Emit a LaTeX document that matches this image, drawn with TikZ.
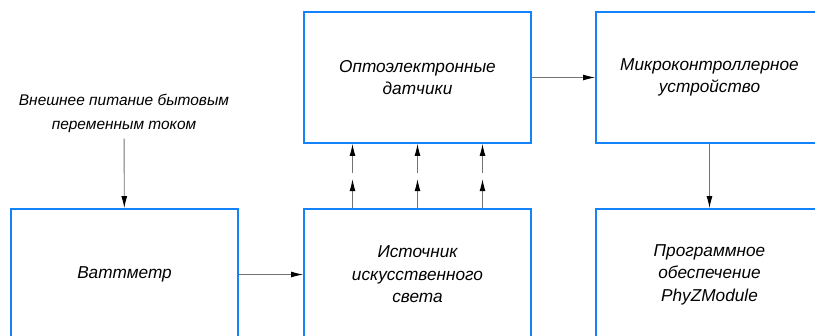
\documentclass[tikz,border=0pt]{standalone}
\usepackage{fontspec}
\setmainfont{Liberation Sans}
\usetikzlibrary{arrows.meta}
\definecolor{boxblue}{RGB}{20,130,250}
\begin{document}
\begin{tikzpicture}[x=0.2mm,y=-0.2mm,
    font=\itshape\fontsize{9.8}{12.8}\selectfont,
    block/.style={draw=boxblue,line width=1.1pt,minimum width=45.4mm,minimum height=26.2mm,align=center},
    conn/.style={draw=black!55,line width=0.5pt,-{Latex[black,length=2.4mm,width=1.2mm]}}]

    \def\frame{(0,0) rectangle (815,335)}
    \clip \frame;

    %draw blocks:
    \node[block] (sens) at (417.5,77.5) {Оптоэлектронные\\датчики};
    \node[block] (mcu) at (709.5,77.5) {Микроконтроллерное\\устройство};
    \node[block] (watt) at (124.5,274.5) {Ваттметр};
    \node[block] (light) at (417.5,274.5) {Источник\\искусственного\\света};
    \node[block] (soft) at (709.5,274.5) {Программное\\обеспечение\\PhyZModule};
    \node[align=center,inner sep=1.2mm,font=\itshape\fontsize{8.8}{13.6}\selectfont] (power) at (124,113) {Внешнее питание бытовым\\переменным током};

    %connectors:
    \draw[conn] (power) -- (watt);
    \draw[conn] (watt) -- (light);
    \draw[conn] (sens) -- (mcu);
    \draw[conn] (mcu) -- (soft);

    %light rays:
    \foreach \dx [count=\i] in {-65,0,65}{
        \coordinate (lo\i) at ([xshift=\dx*0.2mm]light.north);
        \coordinate (hi\i) at ([xshift=\dx*0.2mm]sens.south);
        \path (lo\i) -- (hi\i) coordinate[pos=0.45] (a\i) coordinate[pos=0.55] (b\i);
        \draw[conn] (lo\i) -- (a\i);
        \draw[conn] (b\i) -- (hi\i);
    }

\end{tikzpicture}
\end{document}
